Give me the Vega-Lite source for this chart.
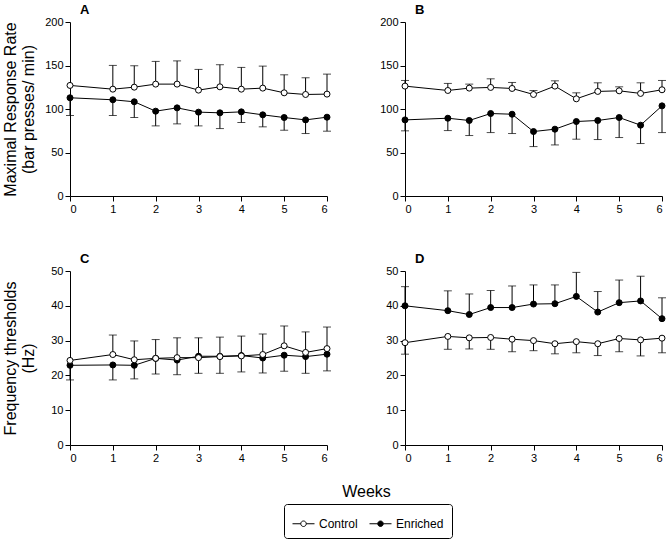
{
  "$schema": "https://vega.github.io/schema/vega-lite/v6.json",
  "padding": {"left": 2, "top": 4, "right": 5, "bottom": 0},
  "config": {
    "font": "Liberation Sans",
    "view": {"stroke": null},
    "axis": {"domainColor": "black", "tickColor": "black", "labelColor": "black", "titleColor": "black", "grid": false, "labelFontSize": 11, "tickSize": 5, "labelPadding": 2, "domainWidth": 1, "tickWidth": 1, "titleFontSize": 16, "titleFontWeight": "normal"},
    "axisY": {"minExtent": 27, "maxExtent": 27, "titlePadding": 7, "titleLineHeight": 18},
    "title": {"fontSize": 13, "fontWeight": "bold", "anchor": "start", "frame": "group", "dx": 10, "offset": -1.3, "color": "black"},
    "legend": {"orient": "none", "legendX": 214, "legendY": 482, "direction": "horizontal", "strokeColor": "black", "cornerRadius": 3, "padding": 8, "symbolSize": 484, "symbolStrokeColor": "black", "symbolStrokeWidth": 1, "labelFontSize": 12, "labelColor": "black", "columnPadding": 9, "labelOffset": 4, "symbolType": "M-1,0L-0.25,0M0.25,0L1,0M0.25,0A0.25,0.25,0,1,1,-0.25,0A0.25,0.25,0,1,1,0.25,0Z"}
  },
  "data": {"values": [
    {"panel": "A", "group": "Enriched", "week": 0, "value": 112.9, "err": 92.5},
    {"panel": "A", "group": "Enriched", "week": 1, "value": 110.6, "err": 92.5},
    {"panel": "A", "group": "Enriched", "week": 1.5, "value": 108.3, "err": 90.2},
    {"panel": "A", "group": "Enriched", "week": 2, "value": 97.5, "err": 80.6},
    {"panel": "A", "group": "Enriched", "week": 2.5, "value": 101.3, "err": 82.9},
    {"panel": "A", "group": "Enriched", "week": 3, "value": 96.4, "err": 80.6},
    {"panel": "A", "group": "Enriched", "week": 3.5, "value": 95.6, "err": 77.5},
    {"panel": "A", "group": "Enriched", "week": 4, "value": 96.7, "err": 84.5},
    {"panel": "A", "group": "Enriched", "week": 4.5, "value": 93.3, "err": 79.5},
    {"panel": "A", "group": "Enriched", "week": 5, "value": 90.2, "err": 75.6},
    {"panel": "A", "group": "Enriched", "week": 5.5, "value": 87.5, "err": 71.8},
    {"panel": "A", "group": "Enriched", "week": 6, "value": 90.6, "err": 74.5},
    {"panel": "A", "group": "Control", "week": 0, "value": 127.1, "err": null},
    {"panel": "A", "group": "Control", "week": 1, "value": 122.8, "err": 150.1},
    {"panel": "A", "group": "Control", "week": 1.5, "value": 125.1, "err": 149.7},
    {"panel": "A", "group": "Control", "week": 2, "value": 128.6, "err": 154.7},
    {"panel": "A", "group": "Control", "week": 2.5, "value": 128.6, "err": 155.3},
    {"panel": "A", "group": "Control", "week": 3, "value": 121.7, "err": 145.5},
    {"panel": "A", "group": "Control", "week": 3.5, "value": 125.5, "err": 150.9},
    {"panel": "A", "group": "Control", "week": 4, "value": 122.8, "err": 147.8},
    {"panel": "A", "group": "Control", "week": 4.5, "value": 124.0, "err": 149.3},
    {"panel": "A", "group": "Control", "week": 5, "value": 118.6, "err": 139.3},
    {"panel": "A", "group": "Control", "week": 5.5, "value": 116.7, "err": 135.9},
    {"panel": "A", "group": "Control", "week": 6, "value": 117.1, "err": 140.1},
    {"panel": "B", "group": "Enriched", "week": 0, "value": 87.5, "err": 74.9},
    {"panel": "B", "group": "Enriched", "week": 1, "value": 89.4, "err": 75.2},
    {"panel": "B", "group": "Enriched", "week": 1.5, "value": 86.8, "err": 69.5},
    {"panel": "B", "group": "Enriched", "week": 2, "value": 94.8, "err": 72.9},
    {"panel": "B", "group": "Enriched", "week": 2.5, "value": 94.0, "err": 71.8},
    {"panel": "B", "group": "Enriched", "week": 3, "value": 74.1, "err": 56.8},
    {"panel": "B", "group": "Enriched", "week": 3.5, "value": 76.8, "err": 58.7},
    {"panel": "B", "group": "Enriched", "week": 4, "value": 85.6, "err": 65.3},
    {"panel": "B", "group": "Enriched", "week": 4.5, "value": 86.8, "err": 64.9},
    {"panel": "B", "group": "Enriched", "week": 5, "value": 90.2, "err": 67.2},
    {"panel": "B", "group": "Enriched", "week": 5.5, "value": 81.4, "err": 60.3},
    {"panel": "B", "group": "Enriched", "week": 6, "value": 103.6, "err": 72.9},
    {"panel": "B", "group": "Control", "week": 0, "value": 126.3, "err": 132.8},
    {"panel": "B", "group": "Control", "week": 1, "value": 121.3, "err": 129.4},
    {"panel": "B", "group": "Control", "week": 1.5, "value": 124.0, "err": 128.6},
    {"panel": "B", "group": "Control", "week": 2, "value": 124.8, "err": 134.7},
    {"panel": "B", "group": "Control", "week": 2.5, "value": 123.6, "err": 130.5},
    {"panel": "B", "group": "Control", "week": 3, "value": 116.7, "err": 121.3},
    {"panel": "B", "group": "Control", "week": 3.5, "value": 126.3, "err": 132.4},
    {"panel": "B", "group": "Control", "week": 4, "value": 111.7, "err": 118.6},
    {"panel": "B", "group": "Control", "week": 4.5, "value": 120.2, "err": 130.1},
    {"panel": "B", "group": "Control", "week": 5, "value": 120.9, "err": 125.5},
    {"panel": "B", "group": "Control", "week": 5.5, "value": 117.9, "err": 130.1},
    {"panel": "B", "group": "Control", "week": 6, "value": 122.1, "err": 132.8},
    {"panel": "C", "group": "Enriched", "week": 0, "value": 22.9, "err": 18.7},
    {"panel": "C", "group": "Enriched", "week": 1, "value": 23.0, "err": 18.7},
    {"panel": "C", "group": "Enriched", "week": 1.5, "value": 22.9, "err": 19.0},
    {"panel": "C", "group": "Enriched", "week": 2, "value": 24.9, "err": 20.4},
    {"panel": "C", "group": "Enriched", "week": 2.5, "value": 24.4, "err": 20.2},
    {"panel": "C", "group": "Enriched", "week": 3, "value": 25.5, "err": 20.6},
    {"panel": "C", "group": "Enriched", "week": 3.5, "value": 25.5, "err": 20.6},
    {"panel": "C", "group": "Enriched", "week": 4, "value": 25.7, "err": 21.0},
    {"panel": "C", "group": "Enriched", "week": 4.5, "value": 25.0, "err": 20.7},
    {"panel": "C", "group": "Enriched", "week": 5, "value": 25.8, "err": 21.2},
    {"panel": "C", "group": "Enriched", "week": 5.5, "value": 25.4, "err": 20.6},
    {"panel": "C", "group": "Enriched", "week": 6, "value": 26.1, "err": 21.3},
    {"panel": "C", "group": "Control", "week": 0, "value": 24.3, "err": null},
    {"panel": "C", "group": "Control", "week": 1, "value": 26.0, "err": 31.6},
    {"panel": "C", "group": "Control", "week": 1.5, "value": 24.5, "err": 29.9},
    {"panel": "C", "group": "Control", "week": 2, "value": 24.9, "err": 30.3},
    {"panel": "C", "group": "Control", "week": 2.5, "value": 25.1, "err": 30.8},
    {"panel": "C", "group": "Control", "week": 3, "value": 25.1, "err": 30.8},
    {"panel": "C", "group": "Control", "week": 3.5, "value": 25.4, "err": 31.0},
    {"panel": "C", "group": "Control", "week": 4, "value": 25.6, "err": 31.3},
    {"panel": "C", "group": "Control", "week": 4.5, "value": 26.0, "err": 31.9},
    {"panel": "C", "group": "Control", "week": 5, "value": 28.5, "err": 34.2},
    {"panel": "C", "group": "Control", "week": 5.5, "value": 26.6, "err": 32.5},
    {"panel": "C", "group": "Control", "week": 6, "value": 27.7, "err": 33.9},
    {"panel": "D", "group": "Enriched", "week": 0, "value": 40.0, "err": 45.5},
    {"panel": "D", "group": "Enriched", "week": 1, "value": 38.6, "err": 44.3},
    {"panel": "D", "group": "Enriched", "week": 1.5, "value": 37.5, "err": 43.4},
    {"panel": "D", "group": "Enriched", "week": 2, "value": 39.5, "err": 44.4},
    {"panel": "D", "group": "Enriched", "week": 2.5, "value": 39.5, "err": 45.7},
    {"panel": "D", "group": "Enriched", "week": 3, "value": 40.5, "err": 46.0},
    {"panel": "D", "group": "Enriched", "week": 3.5, "value": 40.6, "err": 46.0},
    {"panel": "D", "group": "Enriched", "week": 4, "value": 42.7, "err": 49.6},
    {"panel": "D", "group": "Enriched", "week": 4.5, "value": 38.2, "err": 44.1},
    {"panel": "D", "group": "Enriched", "week": 5, "value": 40.9, "err": 47.4},
    {"panel": "D", "group": "Enriched", "week": 5.5, "value": 41.4, "err": 48.5},
    {"panel": "D", "group": "Enriched", "week": 6, "value": 36.3, "err": 42.3},
    {"panel": "D", "group": "Control", "week": 0, "value": 29.4, "err": 26.1},
    {"panel": "D", "group": "Control", "week": 1, "value": 31.2, "err": 27.5},
    {"panel": "D", "group": "Control", "week": 1.5, "value": 30.8, "err": 27.6},
    {"panel": "D", "group": "Control", "week": 2, "value": 30.9, "err": 27.5},
    {"panel": "D", "group": "Control", "week": 2.5, "value": 30.4, "err": 26.8},
    {"panel": "D", "group": "Control", "week": 3, "value": 30.0, "err": 27.1},
    {"panel": "D", "group": "Control", "week": 3.5, "value": 29.1, "err": 26.2},
    {"panel": "D", "group": "Control", "week": 4, "value": 29.7, "err": 26.5},
    {"panel": "D", "group": "Control", "week": 4.5, "value": 29.1, "err": 25.7},
    {"panel": "D", "group": "Control", "week": 5, "value": 30.6, "err": 26.8},
    {"panel": "D", "group": "Control", "week": 5.5, "value": 30.2, "err": 25.6},
    {"panel": "D", "group": "Control", "week": 6, "value": 30.7, "err": 26.5}
  ]},
  "bounds": "flush",
  "columns": 2,
  "spacing": {"row": 75, "column": 78},
  "concat": [
      {"width": 257, "height": 174, "title": "A",
       "transform": [{"filter": "datum.panel === 'A'"}],
       "encoding": {"x": {"field": "week", "type": "quantitative", "scale": {"domain": [0, 6], "nice": false}, "axis": {"values": [0, 1, 2, 3, 4, 5, 6], "title": null}}},
       "layer": [
         {"transform": [{"filter": "isValid(datum.err)"}], "mark": {"type": "rule", "color": "black", "strokeWidth": 1},
          "encoding": {"y": {"field": "value", "type": "quantitative", "scale": {"domain": [0, 200], "nice": false}, "axis": {"values": [0, 50, 100, 150, 200], "title": ["Maximal Response Rate", "(bar presses/ min)"]}}, "y2": {"field": "err"}}},
         {"transform": [{"filter": "isValid(datum.err)"}], "mark": {"type": "tick", "orient": "horizontal", "size": 8, "thickness": 1, "color": "black"},
          "encoding": {"y": {"field": "err", "type": "quantitative", "axis": {"values": [0, 50, 100, 150, 200], "title": ["Maximal Response Rate", "(bar presses/ min)"]}}}},
         {"mark": {"type": "line", "color": "black", "strokeWidth": 1},
          "encoding": {"y": {"field": "value", "type": "quantitative", "axis": {"values": [0, 50, 100, 150, 200], "title": ["Maximal Response Rate", "(bar presses/ min)"]}}, "detail": {"field": "group"}}},
         {"mark": {"type": "point", "shape": "circle", "filled": true, "size": 36, "stroke": "black", "strokeWidth": 1, "opacity": 1},
          "encoding": {"y": {"field": "value", "type": "quantitative", "axis": {"values": [0, 50, 100, 150, 200], "title": ["Maximal Response Rate", "(bar presses/ min)"]}}, "fill": {"field": "group", "type": "nominal", "scale": {"domain": ["Control", "Enriched"], "range": ["white", "black"]}, "legend": {"title": null}}}}
       ]},
      {"width": 257, "height": 174, "title": "B",
       "transform": [{"filter": "datum.panel === 'B'"}],
       "encoding": {"x": {"field": "week", "type": "quantitative", "scale": {"domain": [0, 6], "nice": false}, "axis": {"values": [0, 1, 2, 3, 4, 5, 6], "title": null}}},
       "layer": [
         {"transform": [{"filter": "isValid(datum.err)"}], "mark": {"type": "rule", "color": "black", "strokeWidth": 1},
          "encoding": {"y": {"field": "value", "type": "quantitative", "scale": {"domain": [0, 200], "nice": false}, "axis": {"values": [0, 50, 100, 150, 200], "title": null}}, "y2": {"field": "err"}}},
         {"transform": [{"filter": "isValid(datum.err)"}], "mark": {"type": "tick", "orient": "horizontal", "size": 8, "thickness": 1, "color": "black"},
          "encoding": {"y": {"field": "err", "type": "quantitative", "axis": {"values": [0, 50, 100, 150, 200], "title": null}}}},
         {"mark": {"type": "line", "color": "black", "strokeWidth": 1},
          "encoding": {"y": {"field": "value", "type": "quantitative", "axis": {"values": [0, 50, 100, 150, 200], "title": null}}, "detail": {"field": "group"}}},
         {"mark": {"type": "point", "shape": "circle", "filled": true, "size": 36, "stroke": "black", "strokeWidth": 1, "opacity": 1},
          "encoding": {"y": {"field": "value", "type": "quantitative", "axis": {"values": [0, 50, 100, 150, 200], "title": null}}, "fill": {"field": "group", "type": "nominal", "scale": {"domain": ["Control", "Enriched"], "range": ["white", "black"]}, "legend": {"title": null}}}}
       ]},
      {"width": 257, "height": 174, "title": "C",
       "transform": [{"filter": "datum.panel === 'C'"}],
       "encoding": {"x": {"field": "week", "type": "quantitative", "scale": {"domain": [0, 6], "nice": false}, "axis": {"values": [0, 1, 2, 3, 4, 5, 6], "title": "Weeks", "titleX": 296, "titleY": 46, "titleAlign": "center", "titleBaseline": "middle", "titleAnchor": null}}},
       "layer": [
         {"transform": [{"filter": "isValid(datum.err)"}], "mark": {"type": "rule", "color": "black", "strokeWidth": 1},
          "encoding": {"y": {"field": "value", "type": "quantitative", "scale": {"domain": [0, 50], "nice": false}, "axis": {"values": [0, 10, 20, 30, 40, 50], "title": ["Frequency thresholds", "(Hz)"]}}, "y2": {"field": "err"}}},
         {"transform": [{"filter": "isValid(datum.err)"}], "mark": {"type": "tick", "orient": "horizontal", "size": 8, "thickness": 1, "color": "black"},
          "encoding": {"y": {"field": "err", "type": "quantitative", "axis": {"values": [0, 10, 20, 30, 40, 50], "title": ["Frequency thresholds", "(Hz)"]}}}},
         {"mark": {"type": "line", "color": "black", "strokeWidth": 1},
          "encoding": {"y": {"field": "value", "type": "quantitative", "axis": {"values": [0, 10, 20, 30, 40, 50], "title": ["Frequency thresholds", "(Hz)"]}}, "detail": {"field": "group"}}},
         {"mark": {"type": "point", "shape": "circle", "filled": true, "size": 36, "stroke": "black", "strokeWidth": 1, "opacity": 1},
          "encoding": {"y": {"field": "value", "type": "quantitative", "axis": {"values": [0, 10, 20, 30, 40, 50], "title": ["Frequency thresholds", "(Hz)"]}}, "fill": {"field": "group", "type": "nominal", "scale": {"domain": ["Control", "Enriched"], "range": ["white", "black"]}, "legend": {"title": null}}}}
       ]},
      {"width": 257, "height": 174, "title": "D",
       "transform": [{"filter": "datum.panel === 'D'"}],
       "encoding": {"x": {"field": "week", "type": "quantitative", "scale": {"domain": [0, 6], "nice": false}, "axis": {"values": [0, 1, 2, 3, 4, 5, 6], "title": null}}},
       "layer": [
         {"transform": [{"filter": "isValid(datum.err)"}], "mark": {"type": "rule", "color": "black", "strokeWidth": 1},
          "encoding": {"y": {"field": "value", "type": "quantitative", "scale": {"domain": [0, 50], "nice": false}, "axis": {"values": [0, 10, 20, 30, 40, 50], "title": null}}, "y2": {"field": "err"}}},
         {"transform": [{"filter": "isValid(datum.err)"}], "mark": {"type": "tick", "orient": "horizontal", "size": 8, "thickness": 1, "color": "black"},
          "encoding": {"y": {"field": "err", "type": "quantitative", "axis": {"values": [0, 10, 20, 30, 40, 50], "title": null}}}},
         {"mark": {"type": "line", "color": "black", "strokeWidth": 1},
          "encoding": {"y": {"field": "value", "type": "quantitative", "axis": {"values": [0, 10, 20, 30, 40, 50], "title": null}}, "detail": {"field": "group"}}},
         {"mark": {"type": "point", "shape": "circle", "filled": true, "size": 36, "stroke": "black", "strokeWidth": 1, "opacity": 1},
          "encoding": {"y": {"field": "value", "type": "quantitative", "axis": {"values": [0, 10, 20, 30, 40, 50], "title": null}}, "fill": {"field": "group", "type": "nominal", "scale": {"domain": ["Control", "Enriched"], "range": ["white", "black"]}, "legend": {"title": null}}}}
       ]}
  ]
}
